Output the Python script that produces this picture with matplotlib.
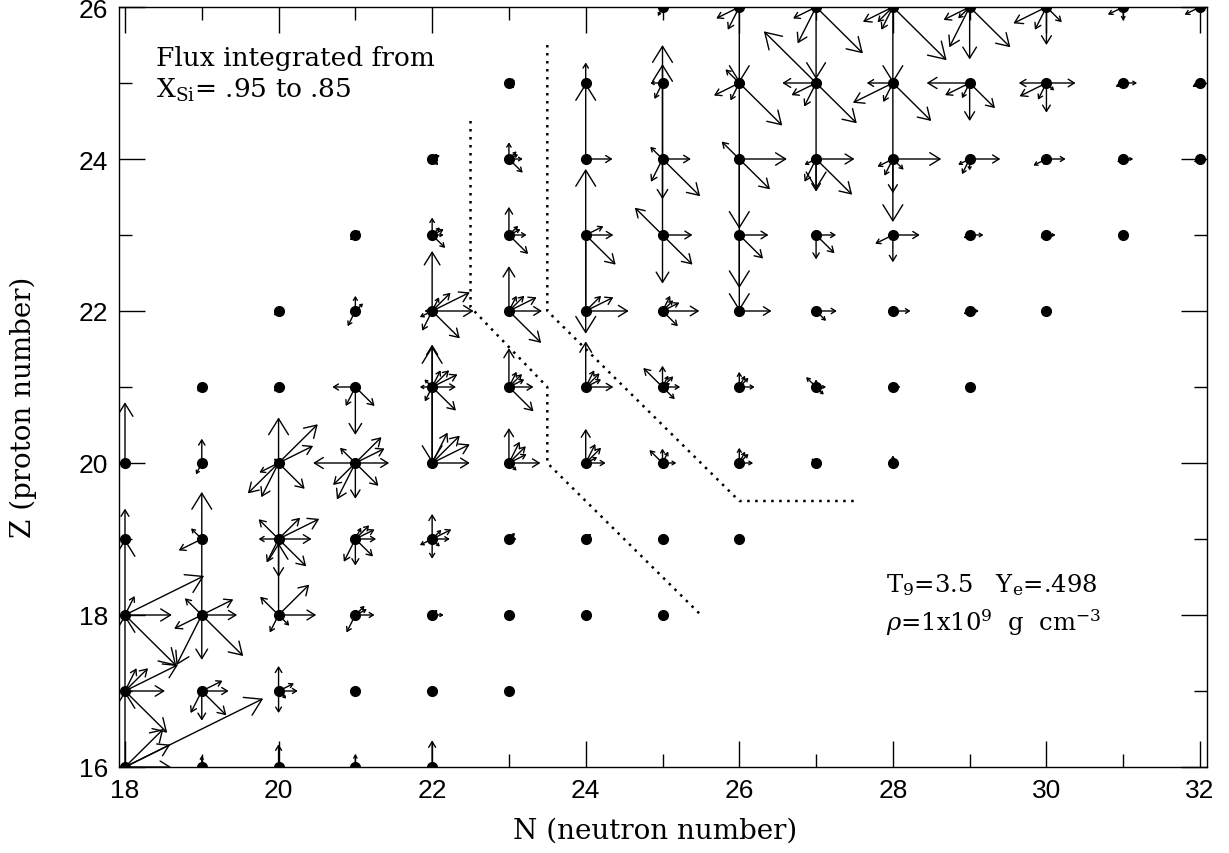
import matplotlib
matplotlib.use("Agg")
import matplotlib.pyplot as plt
from matplotlib.patches import FancyArrowPatch, ArrowStyle
from matplotlib.ticker import MultipleLocator
import numpy as np

plt.rcParams['font.family'] = ['DejaVu Serif']
plt.rcParams['mathtext.fontset'] = 'dejavuserif'

# nuclei in the network: for each Z the range of N shown
row_z = [16, 17, 18, 19, 20, 21, 22, 23, 24, 25, 26]
row_nmin = [18, 18, 18, 18, 18, 19, 20, 21, 22, 23, 25]
row_nmax = [22, 23, 25, 26, 28, 29, 30, 31, 32, 32, 32]

# integrated flux per reaction channel: (N, Z, size)
# size is the length along the channel direction given in flux_dirs
flux_right = [(18, 16, .6), (18, 17, .52), (18, 18, .61), (19, 17, .35), (19, 18, .46),
              (20, 17, .25), (20, 18, .49), (20, 19, .43), (21, 18, .25), (21, 19, .27),
              (21, 20, .44), (22, 18, .15), (22, 19, .23), (22, 20, .49), (22, 21, .31),
              (22, 22, .54), (22, 23, .15), (23, 19, .1), (23, 20, .41), (23, 21, .32),
              (23, 22, .43), (23, 23, .23), (23, 24, .18), (24, 20, .26), (24, 21, .36),
              (24, 22, .56), (24, 23, .36), (24, 24, .35), (25, 20, .18), (25, 21, .23),
              (25, 22, .48), (25, 23, .39), (25, 24, .37), (26, 20, .18), (26, 21, .2),
              (26, 22, .42), (26, 23, .38), (26, 24, .62), (27, 21, .13), (27, 22, .27),
              (27, 23, .26), (27, 24, .5), (28, 21, .1), (28, 22, .23), (28, 23, .35),
              (28, 24, .63), (29, 22, .12), (29, 23, .18), (29, 24, .4), (30, 23, .12),
              (30, 24, .25), (30, 25, .38), (31, 23, .06), (31, 24, .13), (31, 25, .18),
              (26, 19, .05), (21, 17, .08), (22, 17, .06), (23, 18, .05), (24, 18, .05),
              (24, 19, .06), (25, 19, .05), (28, 20, .06)]
flux_up = [(18, 16, 1.0), (18, 17, 1.0), (18, 18, 1.0), (18, 19, .4), (18, 20, .8),
           (19, 18, 1.62), (19, 20, .32), (19, 16, .15), (20, 16, .3), (20, 17, .33),
           (20, 18, .95), (20, 19, 1.6), (21, 16, .17), (21, 22, .2), (22, 16, .35),
           (22, 19, .33), (22, 20, 1.54), (22, 21, .56), (22, 22, .79), (22, 23, .23),
           (23, 20, .46), (23, 21, .51), (23, 22, .59), (23, 23, .37), (23, 24, .22),
           (24, 20, .45), (24, 21, .6), (24, 22, 1.87), (24, 24, 1.0), (24, 25, .27),
           (25, 20, .19), (25, 21, .28), (25, 23, 2.25), (25, 24, 1.5), (26, 20, .2),
           (26, 21, .2), (27, 21, .1), (28, 20, .1)]
flux_down = [(19, 17, .39), (19, 18, .59), (20, 17, .29), (20, 19, .5), (21, 19, .35),
             (21, 20, .47), (21, 21, .63), (22, 19, .26), (22, 21, 1.0), (24, 23, 1.3),
             (25, 23, .64), (25, 24, .53), (26, 23, 1.0), (26, 24, 1.7), (26, 25, 1.92),
             (26, 26, 1.0), (27, 23, .32), (27, 24, .43), (27, 25, 1.4), (27, 26, .95),
             (28, 23, .36), (28, 24, .45), (28, 25, 1.83), (28, 26, 1.0), (29, 24, .15),
             (29, 25, .5), (29, 26, .69), (30, 25, .39), (30, 26, .5), (31, 26, .18)]
flux_left = [(20, 19, .26), (21, 20, .55), (21, 21, .3), (22, 21, .16), (22, 22, .1),
             (25, 25, .16), (27, 25, .44), (28, 25, .34), (29, 25, .56), (30, 25, .36)]
flux_upright = [(18, 16, .5), (18, 17, .3), (20, 18, .4), (20, 19, .28), (20, 20, .51),
                (21, 18, .12), (21, 19, .18), (21, 20, .34), (21, 22, .1), (22, 19, .12),
                (22, 20, .36), (22, 21, .22), (22, 22, .24), (22, 23, .1), (23, 20, .22),
                (23, 21, .17), (23, 22, .2), (23, 23, .12), (23, 24, .1), (24, 20, .2),
                (24, 21, .18), (24, 22, .2), (25, 21, .14), (25, 22, .14), (26, 20, .12),
                (26, 21, .12), (22, 24, .07), (23, 25, .06), (21, 23, .06), (22, 18, .07),
                (23, 19, .08), (24, 19, .07)]
flux_r2u1 = [(18, 16, 1.8), (18, 16, .59), (18, 17, .69), (18, 18, 1.03), (19, 17, .27),
             (19, 18, .41), (20, 17, .2), (20, 19, .53), (20, 20, .45), (21, 18, .15),
             (21, 19, .25), (21, 20, .38), (22, 19, .25), (22, 20, .49), (22, 21, .33),
             (22, 22, .49), (22, 23, .15), (23, 20, .23), (23, 21, .2), (23, 22, .36),
             (23, 23, .15), (23, 24, .12), (24, 20, .15), (24, 21, .2), (24, 22, .36),
             (24, 23, .23), (25, 21, .1), (25, 22, .22), (22, 24, .1), (23, 25, .08)]
flux_r1u2 = [(18, 17, .3), (18, 18, .25), (21, 19, .15), (22, 20, .4), (22, 21, .22),
             (22, 22, .18), (23, 20, .28), (23, 21, .2), (23, 22, .2), (24, 20, .25),
             (24, 21, .22), (25, 20, .15), (25, 21, .15), (25, 22, .2), (26, 20, .15),
             (26, 21, .15)]
flux_downright = [(18, 17, .55), (18, 18, .67), (19, 17, .32), (19, 18, .54), (20, 17, .1),
                  (20, 18, .14), (20, 19, .36), (20, 20, .34), (21, 17, .05), (21, 19, .23),
                  (21, 20, .3), (21, 21, .25), (22, 19, .1), (22, 21, .31), (22, 22, .36),
                  (22, 23, .17), (23, 20, .1), (23, 21, .32), (23, 22, .42), (23, 23, .25),
                  (23, 24, .18), (24, 23, .39), (25, 21, .16), (25, 22, .2), (25, 23, .39),
                  (25, 24, .49), (26, 23, .31), (26, 24, .4), (26, 25, .56), (27, 21, .1),
                  (27, 22, .13), (27, 23, .24), (27, 24, .47), (27, 25, .53), (27, 26, .61),
                  (28, 24, .14), (28, 25, .5), (28, 26, .7), (29, 25, .33), (29, 26, .53),
                  (30, 25, .1), (30, 26, .2), (22, 24, .08), (23, 25, .07), (22, 17, .05),
                  (23, 18, .05), (27, 20, .06)]
flux_upleft = [(19, 18, .22), (19, 19, .14), (20, 18, .24), (20, 19, .26), (20, 20, .06),
               (21, 20, .2), (22, 21, .1), (25, 20, .17), (25, 21, .25), (25, 23, .36),
               (25, 24, .16), (26, 24, .23), (26, 25, .18), (27, 21, .13), (27, 25, .68),
               (27, 20, .06)]
flux_downleft = [(20, 20, .4), (21, 20, .29), (28, 26, .2), (29, 26, .15), (19, 21, .06),
                 (20, 22, .06), (21, 23, .07), (20, 21, .06), (22, 24, .05)]
flux_l2d1 = [(19, 18, .36), (19, 19, .3), (20, 20, .25), (22, 19, .16), (22, 22, .16),
             (26, 25, .33), (26, 26, .3), (27, 24, .15), (27, 25, .32), (27, 26, .3),
             (28, 23, .23), (28, 24, .2), (28, 25, .52), (28, 26, .39), (29, 22, .08),
             (29, 23, .08), (29, 24, .15), (29, 25, .32), (29, 26, .34), (30, 23, .08),
             (30, 24, .17), (30, 25, .35), (30, 26, .43), (31, 24, .08), (31, 25, .1),
             (31, 26, .2), (32, 25, .1), (32, 26, .2), (32, 24, .08), (31, 23, .06),
             (29, 21, .05), (30, 22, .05), (28, 21, .06)]
flux_l1d2 = [(19, 17, .29), (19, 18, .66), (19, 20, .15), (20, 18, .23), (20, 19, .31),
             (20, 20, .45), (21, 18, .23), (21, 19, .3), (21, 20, .48), (21, 21, .25),
             (21, 22, .2), (22, 21, .19), (22, 22, .26), (25, 24, .3), (25, 25, .21),
             (25, 26, .12), (26, 25, .23), (26, 26, .3), (27, 24, .3), (27, 25, .31),
             (27, 26, .48), (28, 24, .22), (28, 25, .25), (28, 26, .3), (29, 24, .2),
             (29, 25, .2), (29, 26, .53), (30, 24, .08), (30, 25, .22), (30, 26, .3),
             (29, 22, .06), (28, 22, .06), (29, 23, .07), (30, 23, .06), (31, 24, .06),
             (32, 24, .06)]

flux_dirs = [(flux_right, (1, 0)), (flux_up, (0, 1)), (flux_down, (0, -1)),
             (flux_left, (-1, 0)), (flux_upright, (1, 1)), (flux_r2u1, (1, .5)),
             (flux_r1u2, (.5, 1)), (flux_downright, (1, -1)), (flux_upleft, (-1, 1)),
             (flux_downleft, (-1, -1)), (flux_l2d1, (-1, -.5)), (flux_l1d2, (-.5, -1))]

# burst boundaries (dotted)
bound1_n = [22.5, 22.5, 23.5, 23.5, 25.5]
bound1_z = [24.5, 22.05, 21.0, 20.0, 18.0]
bound2_n = [23.5, 23.5, 26.0, 27.5]
bound2_z = [25.5, 22.0, 19.5, 19.5]

W, H = 1229, 854
fig = plt.figure(figsize=(W / 100, H / 100), dpi=100)
ax = fig.add_axes([119 / W, 1 - 768 / H, (1206.7 - 119) / W, 760 / H])
ax.set_xlim(17.922, 32.087)
ax.set_ylim(16, 26)

# dots
dot_n, dot_z = [], []
for z, n0, n1 in zip(row_z, row_nmin, row_nmax):
    for n in range(n0, n1 + 1):
        dot_n.append(n)
        dot_z.append(z)
ax.plot(dot_n, dot_z, 'o', ms=7, color='k', zorder=4)

# arrows, head size follows the arrow length in pixels
pt = 72 / fig.dpi
for arrows, (ux, uy) in flux_dirs:
    for n, z, s in arrows:
        x1, y1 = n + ux * s, z + uy * s
        p0 = ax.transData.transform((n, z))
        p1 = ax.transData.transform((x1, y1))
        L = np.hypot(*(p1 - p0))
        hl = min(0.21 * L, 16.0)
        style = ArrowStyle('->', head_length=hl * pt, head_width=0.62 * hl * pt)
        ax.add_patch(FancyArrowPatch((n, z), (x1, y1), arrowstyle=style,
                                     mutation_scale=1, shrinkA=0, shrinkB=0,
                                     lw=1.0, color='k', zorder=3))

ax.plot(bound1_n, bound1_z, color='k', lw=1.8, ls=(0, (1, 2.2)))
ax.plot(bound2_n, bound2_z, color='k', lw=1.8, ls=(0, (1, 2.2)))

# axes
ax.xaxis.set_major_locator(MultipleLocator(2))
ax.xaxis.set_minor_locator(MultipleLocator(1))
ax.yaxis.set_major_locator(MultipleLocator(2))
ax.yaxis.set_minor_locator(MultipleLocator(1))
ax.tick_params(which='both', direction='in', top=True, right=True, width=1, color='k')
ax.tick_params(which='major', length=18.5, labelsize=19, pad=8)
ax.tick_params(which='minor', length=9.3)
for lab in ax.get_xticklabels() + ax.get_yticklabels():
    lab.set_fontfamily(['Liberation Sans', 'DejaVu Sans'])
for sp in ax.spines.values():
    sp.set_linewidth(1.0)

ax.set_xlabel('N (neutron number)', fontsize=20, va='center')
ax.xaxis.set_label_coords(0.493, -0.083)
ax.set_ylabel('Z (proton number)', fontsize=20, va='center')
ax.yaxis.set_label_coords(-0.088, 0.475)

ax.text(0.034, 0.9237, 'Flux integrated from', transform=ax.transAxes,
        fontsize=19, va='baseline')
ax.text(0.034, 0.8816, r'X$_{\mathrm{Si}}$= .95 to .85', transform=ax.transAxes,
        fontsize=19, va='baseline')
ax.text(0.705, 0.232, r'T$_9$=3.5   Y$_{\mathrm{e}}$=.498', transform=ax.transAxes,
        fontsize=17.5, va='baseline')
ax.text(0.705, 0.180, r'$\rho$=1x10$^9$  g  cm$^{-3}$', transform=ax.transAxes,
        fontsize=17.5, va='baseline')

fig.savefig('out.png', dpi=100)
